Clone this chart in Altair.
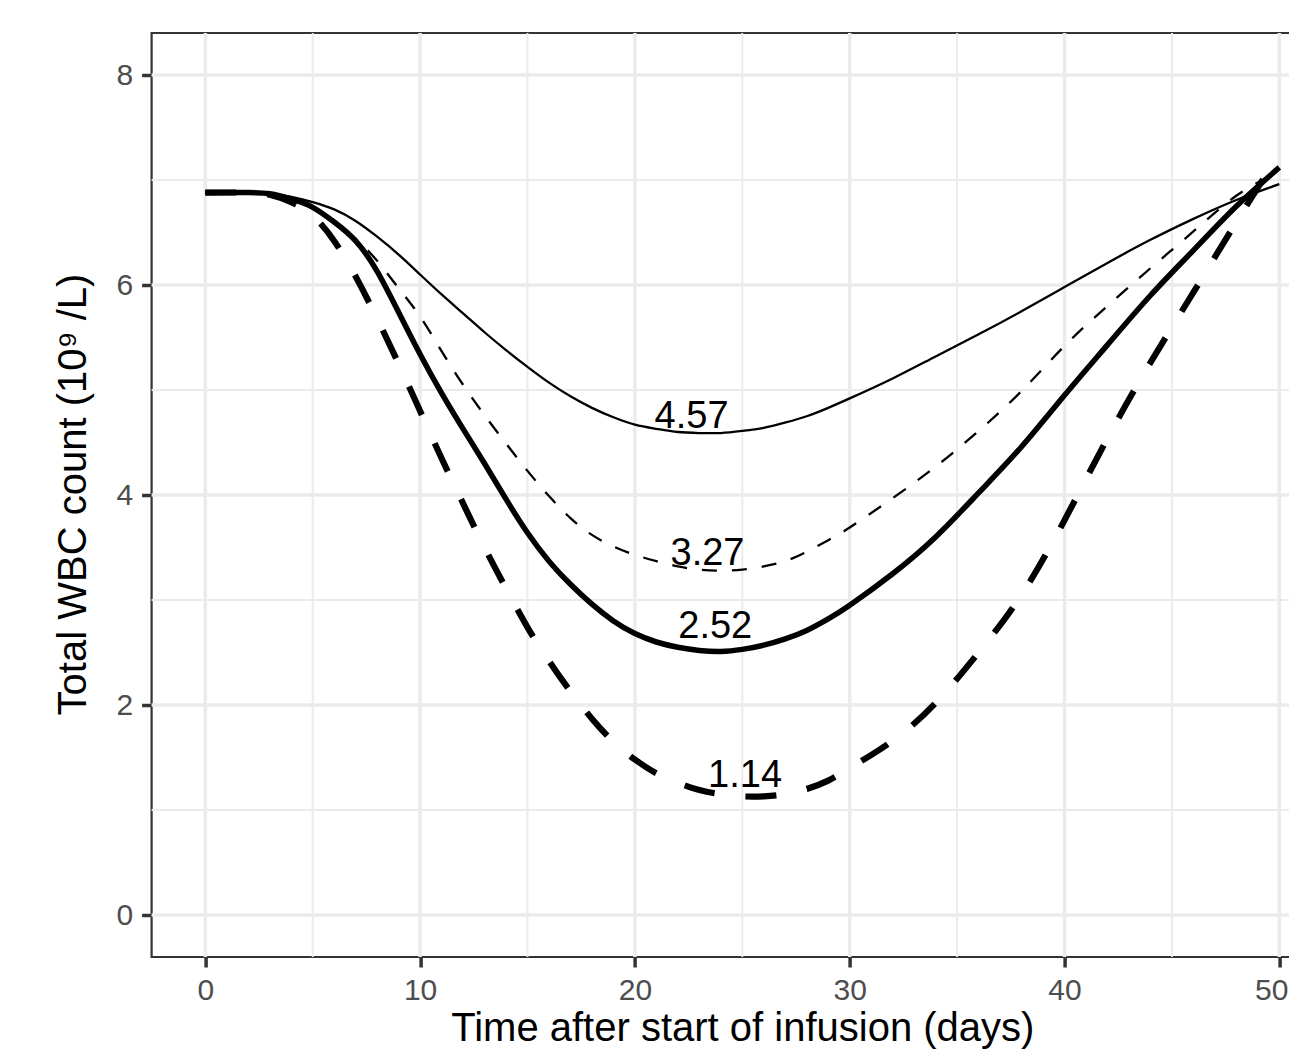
import altair as alt
import pandas as pd

# ---- data ----
days = [0, 2, 3, 4, 5, 6, 7, 8, 9, 10, 11, 12, 13, 14, 15, 16, 17, 18, 19, 20,
        21, 22, 23, 24, 25, 26, 27, 28, 29, 30, 32, 34, 36, 38, 40, 42, 44, 46, 48, 50]

wbc_thin_solid = [6.88, 6.88, 6.87, 6.84, 6.79, 6.72, 6.61, 6.46, 6.29, 6.10,
                  5.91, 5.73, 5.55, 5.38, 5.22, 5.07, 4.94, 4.83, 4.74, 4.67,
                  4.63, 4.60, 4.59, 4.59, 4.61, 4.64, 4.69, 4.75, 4.83, 4.92,
                  5.11, 5.32, 5.53, 5.75, 5.98, 6.21, 6.43, 6.63, 6.81, 6.96]

wbc_thin_dashed = [6.88, 6.88, 6.87, 6.83, 6.74, 6.60, 6.44, 6.23, 5.97, 5.70,
                   5.37, 5.05, 4.76, 4.49, 4.23, 3.99, 3.78, 3.62, 3.51, 3.43,
                   3.37, 3.32, 3.29, 3.28, 3.29, 3.32, 3.37, 3.46, 3.57, 3.69,
                   3.97, 4.27, 4.61, 4.99, 5.42, 5.80, 6.16, 6.51, 6.85, 7.08]

wbc_thick_solid = [6.88, 6.88, 6.87, 6.82, 6.74, 6.60, 6.42, 6.13, 5.74, 5.34,
                   4.97, 4.63, 4.30, 3.96, 3.64, 3.37, 3.15, 2.96, 2.80, 2.68,
                   2.60, 2.55, 2.52, 2.51, 2.53, 2.57, 2.63, 2.71, 2.82, 2.95,
                   3.25, 3.60, 4.02, 4.46, 4.95, 5.43, 5.90, 6.33, 6.75, 7.12]

wbc_thick_dashed = [6.88, 6.88, 6.86, 6.79, 6.66, 6.42, 6.08, 5.68, 5.25, 4.80,
                    4.35, 3.92, 3.50, 3.11, 2.74, 2.42, 2.13, 1.87, 1.65, 1.48,
                    1.35, 1.26, 1.19, 1.15, 1.13, 1.13, 1.15, 1.20, 1.28, 1.40,
                    1.66, 2.02, 2.50, 3.05, 3.76, 4.54, 5.26, 5.93, 6.60, 7.25]

series_names = ["thin_solid", "thin_dashed", "thick_solid", "thick_dashed"]

label_text = ["4.57", "3.27", "2.52", "1.14"]
label_x = [22.64, 23.38, 23.74, 25.13]
label_y = [4.635, 3.333, 2.635, 1.222]

x_ticks = [0, 10, 20, 30, 40, 50]
x_minor = [5, 15, 25, 35, 45]
y_ticks = [0, 2, 4, 6, 8]
y_minor = [1, 3, 5, 7]

# ---- tables ----
series_values = [wbc_thin_solid, wbc_thin_dashed, wbc_thick_solid, wbc_thick_dashed]
rows = []
for name, vals in zip(series_names, series_values):
    for d, v in zip(days, vals):
        rows.append({"day": d, "wbc": v, "series": name})
df = pd.DataFrame(rows)
labels_df = pd.DataFrame({"day": label_x, "wbc": label_y, "label": label_text})

FONT = "Liberation Sans"
PLOT_W = 1181.4
PLOT_H = 924

xscale = alt.Scale(domain=[-2.5, 52.5], nice=False, zero=False)
yscale = alt.Scale(domain=[-0.4, 8.4], nice=False, zero=False)

xaxis = alt.Axis(
    values=x_ticks, title="Time after start of infusion (days)", grid=False,
    domain=False, ticks=True, tickSize=10, tickWidth=3.5, tickColor="#333333",
    labelFont=FONT, labelFontSize=30, labelColor="#4D4D4D", labelPadding=8,
    labelFlush=False, labelOverlap=False,
    labelOffset={"condition": {"test": "datum.value == 50", "value": -8}, "value": 0},
    titleFont=FONT, titleFontSize=40, titleFontWeight="normal", titleColor="black",
    titleX=PLOT_W / 2, titleY=83, titleAlign="center", titleBaseline="alphabetic",
)
yaxis = alt.Axis(
    values=y_ticks, title="Total WBC count (10\u2079 /L)", grid=False,
    domain=False, ticks=True, tickSize=10, tickWidth=3.5, tickColor="#333333",
    labelFont=FONT, labelFontSize=30, labelColor="#4D4D4D", labelPadding=9,
    labelFlush=False, labelOverlap=False,
    titleFont=FONT, titleFontSize=40, titleFontWeight="normal", titleColor="black",
    titleAngle=270, titleX=-66.6, titleY=461, titleAlign="center",
    titleBaseline="alphabetic",
)

X = lambda f: alt.X(f, scale=xscale, axis=xaxis)
Y = lambda f: alt.Y(f, scale=yscale, axis=yaxis)

grid_color = "#EBEBEB"
vminor = alt.Chart(pd.DataFrame({"day": x_minor})).mark_rule(
    color=grid_color, strokeWidth=2).encode(x=X("day:Q"))
hminor = alt.Chart(pd.DataFrame({"wbc": y_minor})).mark_rule(
    color=grid_color, strokeWidth=2).encode(y=Y("wbc:Q"))
vmajor = alt.Chart(pd.DataFrame({"day": x_ticks})).mark_rule(
    color=grid_color, strokeWidth=3.5).encode(x=X("day:Q"))
hmajor = alt.Chart(pd.DataFrame({"wbc": y_ticks})).mark_rule(
    color=grid_color, strokeWidth=3.5).encode(y=Y("wbc:Q"))

styles = {
    "thin_solid": dict(strokeWidth=2.3),
    "thin_dashed": dict(strokeWidth=2.3, strokeDash=[15, 15]),
    "thick_solid": dict(strokeWidth=5.5),
    "thick_dashed": dict(strokeWidth=6.2, strokeDash=[31, 31]),
}

line_layers = []
for name in series_names:
    layer = alt.Chart(df).transform_filter(alt.datum.series == name).mark_line(
        interpolate="natural", color="black", strokeCap="butt", **styles[name]
    ).encode(x=X("day:Q"), y=Y("wbc:Q"))
    line_layers.append(layer)

text = alt.Chart(labels_df).mark_text(
    font=FONT, fontSize=38, align="center", baseline="alphabetic", color="black"
).encode(x=X("day:Q"), y=Y("wbc:Q"), text="label:N")

chart = alt.layer(vminor, hminor, vmajor, hmajor, *line_layers, text).properties(
    width=PLOT_W, height=PLOT_H, autosize="none",
    padding={"left": 143.6, "top": 25, "right": -44, "bottom": 92},
    background="white",
).configure_view(stroke="#333333", strokeWidth=2.2)

chart.save("out.html", embed_options={"renderer": "svg", "actions": False})
